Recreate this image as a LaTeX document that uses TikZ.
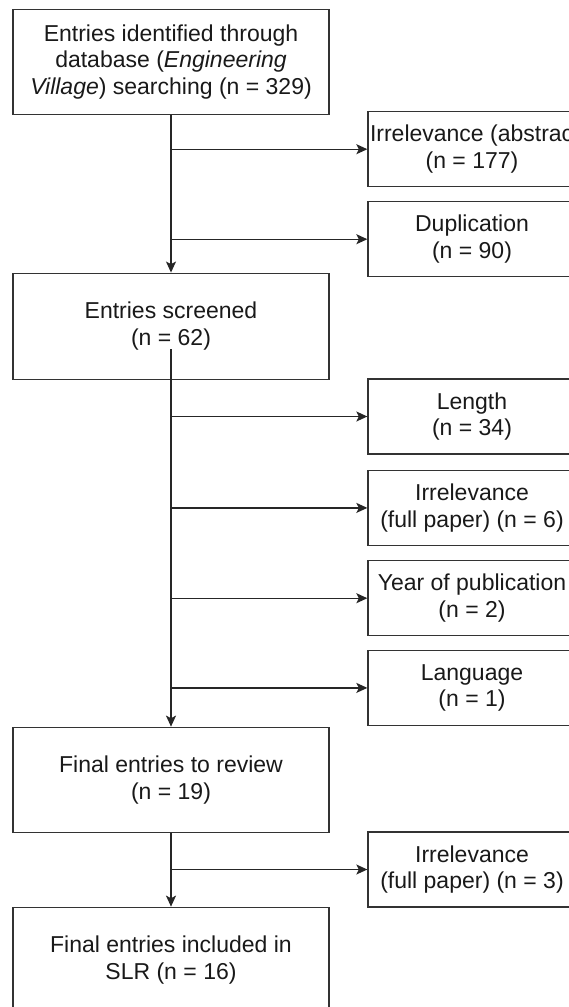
\documentclass[tikz,border=0pt]{standalone}
\usepackage{fontspec}
\setmainfont{Liberation Sans}
\usetikzlibrary{arrows.meta}
\begin{document}
\begin{tikzpicture}[x=1pt,y=-1pt,
  every node/.style={font=\fontsize{23}{26.7}\selectfont, align=center, inner sep=0pt, text=black!90},
  mainbox/.style={draw=black!80, line width=1.3pt, minimum width=316pt},
  sidebox/.style={draw=black!80, line width=1.3pt, minimum width=208pt, minimum height=75pt},
  arr/.style={draw=black!85, line width=1.3pt, -{Stealth[length=11pt,width=10pt,inset=2.5pt]}}]
\useasboundingbox (0,0) rectangle (569,1007);
\clip (0,0) rectangle (569,1007);
\node[mainbox, minimum height=105pt] (L1) at (171,61.8) {Entries identified through\\database (\textit{Engineering}\\\textit{Village}) searching (n = 329)};
\node[mainbox, minimum height=106pt] (L2) at (171,326.2) {Entries screened\\(n = 62)};
\node[mainbox, minimum height=105pt] (L3) at (171,779.8) {Final entries to review\\(n = 19)};
\node[mainbox, minimum height=105pt] (L4) at (171,959.8) {Final entries included in\\SLR (n = 16)};
\coordinate (c2) at (171,349.3);
\node[sidebox] (R1) at (472,149.2) {\makebox[204pt][l]{Irrelevance (abstract)}\\(n = 177)};
\node[sidebox] (R2) at (472,239.2) {Duplication\\(n = 90)};
\node[sidebox] (R3) at (472,416.5) {Length\\(n = 34)};
\node[sidebox] (R4) at (472,507.9) {Irrelevance\\(full paper) (n = 6)};
\node[sidebox] (R5) at (472,598.2) {Year of publication\\(n = 2)};
\node[sidebox] (R6) at (472,687.9) {Language\\(n = 1)};
\node[sidebox] (R7) at (472,869.5) {Irrelevance\\(full paper) (n = 3)};
\draw[arr] (L1.south) -- (L2.north);
\draw[arr] (c2) -- (L3.north);
\draw[arr] (L3.south) -- (L4.north);
\draw[arr] (L1.south |- R1.west) -- (R1.west);
\draw[arr] (L1.south |- R2.west) -- (R2.west);
\draw[arr] (c2 |- R3.west) -- (R3.west);
\draw[arr] (c2 |- R4.west) -- (R4.west);
\draw[arr] (c2 |- R5.west) -- (R5.west);
\draw[arr] (c2 |- R6.west) -- (R6.west);
\draw[arr] (L3.south |- R7.west) -- (R7.west);
\end{tikzpicture}
\end{document}
